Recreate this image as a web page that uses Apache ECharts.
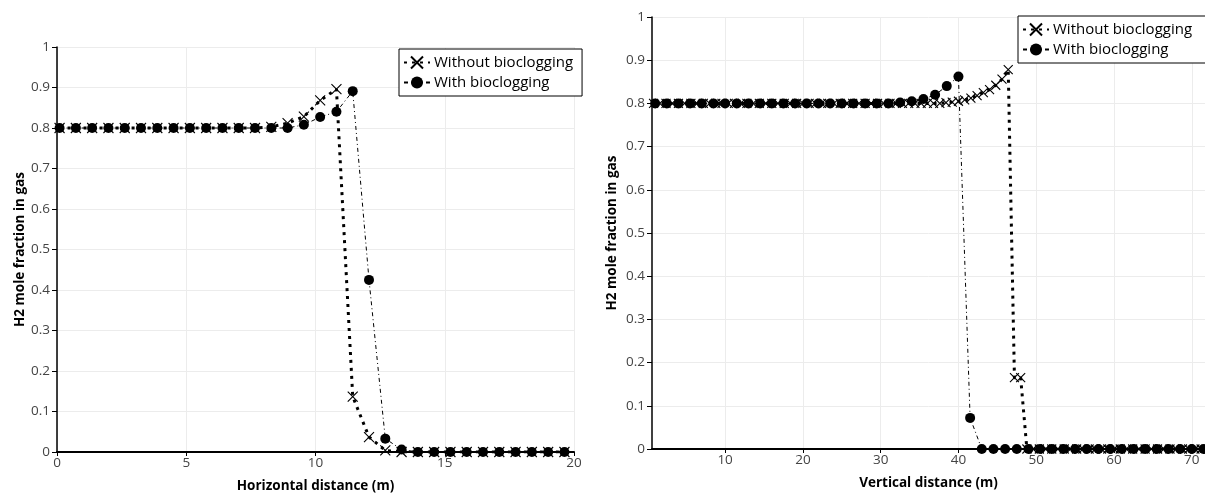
<!DOCTYPE html>
<html><head><meta charset="utf-8">
<script src="https://cdn.jsdelivr.net/npm/echarts@6/dist/echarts.min.js"></script>
<style>html,body{margin:0;padding:0;background:#fff}#c{width:1205px;height:498px}</style>
</head><body><div id="c"></div>
<script>
// ---------- data ----------
const seriesNames = ['Without bioclogging', 'With bioclogging'];

// Left panel: horizontal distance (m)
const leftX = [0.1, 0.73, 1.36, 1.99, 2.62, 3.25, 3.88, 4.51, 5.14, 5.77, 6.4, 7.03, 7.66, 8.29, 8.92, 9.55,
  10.18, 10.81, 11.44, 12.07, 12.7, 13.33, 13.96, 14.59, 15.22, 15.85, 16.48, 17.11, 17.74, 18.37, 19.0, 19.63];
const leftWithout = [0.8, 0.8, 0.8, 0.8, 0.8, 0.8, 0.8, 0.8, 0.8, 0.8, 0.8, 0.8, 0.8, 0.803, 0.812, 0.828,
  0.868, 0.896, 0.137, 0.037, 0.004, 0, 0, 0, 0, 0, 0, 0, 0, 0, 0, 0];
const leftWith = [0.8, 0.8, 0.8, 0.8, 0.8, 0.8, 0.8, 0.8, 0.8, 0.8, 0.8, 0.8, 0.8, 0.8, 0.8, 0.808,
  0.827, 0.84, 0.891, 0.425, 0.033, 0.006, 0, 0, 0, 0, 0, 0, 0, 0, 0, 0];

// Right panel: vertical distance (m)
const rightXWith = [1.0, 2.5, 4.0, 5.5, 7.0, 8.5, 10.0, 11.5, 13.0, 14.5, 16.0, 17.5, 19.0, 20.5, 22.0, 23.5,
  25.0, 26.5, 28.0, 29.5, 31.0, 32.5, 34.0, 35.5, 37.0, 38.5, 40.0, 41.5, 43.0, 44.5, 46.0, 47.5, 49.0, 50.5,
  52.0, 53.5, 55.0, 56.5, 58.0, 59.5, 61.0, 62.5, 64.0, 65.5, 67.0, 68.5, 70.0, 71.5];
const rightWith = [0.8, 0.8, 0.8, 0.8, 0.8, 0.8, 0.8, 0.8, 0.8, 0.8, 0.8, 0.8, 0.8, 0.8, 0.8, 0.8,
  0.8, 0.8, 0.8, 0.8, 0.8, 0.802, 0.805, 0.81, 0.82, 0.84, 0.862, 0.072, 0, 0, 0, 0, 0, 0,
  0, 0, 0, 0, 0, 0, 0, 0, 0, 0, 0, 0, 0, 0];
const rightXWithout = [0.8, 1.6, 2.4, 3.2, 4.0, 4.8, 5.6, 6.4, 7.2, 8.0, 8.8, 9.6, 10.4, 11.2, 12.0, 12.8, 13.6,
  14.4, 15.2, 16.0, 16.8, 17.6, 18.4, 19.2, 20.0, 20.8, 21.6, 22.4, 23.2, 24.0, 24.8, 25.6, 26.4, 27.2, 28.0,
  28.8, 29.6, 30.4, 31.2, 32.0, 32.8, 33.6, 34.4, 35.2, 36.0, 36.8, 37.6, 38.4, 39.2, 40.0, 40.8, 41.6, 42.4,
  43.2, 44.0, 44.8, 45.6, 46.4, 47.2, 48.0, 48.8, 49.6, 50.4, 51.2, 52.0, 52.8, 53.6, 54.4, 55.2, 56.0, 56.8,
  57.6, 58.4, 59.2, 60.0, 60.8, 61.6, 62.4, 63.2, 64.0, 64.8, 65.6, 66.4, 67.2, 68.0, 68.8, 69.6, 70.4, 71.2];
const rightWithout = [0.8, 0.8, 0.8, 0.8, 0.8, 0.8, 0.8, 0.8, 0.8, 0.8, 0.8, 0.8, 0.8, 0.8, 0.8, 0.8, 0.8,
  0.8, 0.8, 0.8, 0.8, 0.8, 0.8, 0.8, 0.8, 0.8, 0.8, 0.8, 0.8, 0.8, 0.8, 0.8, 0.8, 0.8, 0.8,
  0.8, 0.8, 0.8, 0.8, 0.8, 0.8, 0.8, 0.8, 0.8, 0.8, 0.8, 0.8, 0.802, 0.803, 0.805, 0.808, 0.812, 0.818,
  0.825, 0.832, 0.842, 0.856, 0.878, 0.165, 0.165, 0, 0, 0, 0, 0, 0, 0, 0, 0, 0, 0,
  0, 0, 0, 0, 0, 0, 0, 0, 0, 0, 0, 0, 0, 0, 0, 0, 0, 0];

const leftXTicks = [0, 5, 10, 15, 20];
const rightXTicks = [10, 20, 30, 40, 50, 60, 70];
const yAxisTitle = 'H2 mole fraction in gas';
const leftXTitle = 'Horizontal distance (m)';
const rightXTitle = 'Vertical distance (m)';

// ---------- chart ----------
const FONT = '"Open Sans", Lato, sans-serif';
const pairs = (xs, ys) => xs.map((x, i) => [x, ys[i]]);
const crossPath = 'path://M0,0L10,10M10,0L0,10';

function mkSeries(name, data, gi, isCross, size) {
  return {
    name, type: 'line', xAxisIndex: gi, yAxisIndex: gi, data,
    symbol: isCross ? crossPath : 'circle',
    symbolSize: size,
    showAllSymbol: true,
    animation: false,
    z: isCross ? 2 : 3,
    emphasis: { disabled: true },
    lineStyle: isCross ? { color: '#000', width: 3, type: [3, 5] }
                       : { color: '#000', width: 1, type: [4, 3, 1, 3] },
    itemStyle: isCross ? { color: 'rgba(0,0,0,0)', borderColor: '#000', borderWidth: 1.1 }
                       : { color: '#000', borderWidth: 0 }
  };
}

function xAxisCfg(gi, name, min, max, ticks) {
  return {
    type: 'value', gridIndex: gi, min, max,
    name, nameLocation: 'middle', nameGap: 27,
    nameTextStyle: { fontFamily: FONT, fontWeight: 'bold', fontSize: 13.5, color: '#000' },
    axisLine: { show: true, onZero: false, lineStyle: { color: '#000', width: 2 } },
    axisTick: { show: true, length: 4, customValues: ticks, lineStyle: { color: '#000' } },
    axisLabel: { fontFamily: FONT, fontSize: 13.5, color: '#444', margin: 4, customValues: ticks },
    splitLine: { show: true, lineStyle: { color: '#ececec', width: 1 } }
  };
}
function yAxisCfg(gi, gap) {
  return {
    type: 'value', gridIndex: gi, min: 0, max: 1, interval: 0.1,
    name: yAxisTitle, nameLocation: 'middle', nameGap: gap,
    nameTextStyle: { fontFamily: FONT, fontWeight: 'bold', fontSize: 13.5, color: '#000' },
    axisLine: { show: true, lineStyle: { color: '#000', width: 1.5 } },
    axisTick: { show: true, length: 5, lineStyle: { color: '#000' } },
    axisLabel: { fontFamily: FONT, fontSize: 13.5, color: '#444', margin: 7 },
    splitLine: { show: true, lineStyle: { color: '#ececec', width: 1 } }
  };
}
function legendCfg(left, top, padRight) {
  return {
    data: seriesNames, orient: 'vertical', left, top,
    backgroundColor: '#fff', borderColor: '#000', borderWidth: 1, borderRadius: 0,
    padding: [6, padRight, 6, 4], itemGap: 5, itemWidth: 26, itemHeight: 15,
    selectedMode: false,
    textStyle: { fontFamily: FONT, fontSize: 15, color: '#000', padding: [0, 0, 0, -1] }
  };
}

const chart = echarts.init(document.getElementById('c'), null, { renderer: 'canvas' });
chart.setOption({
  backgroundColor: '#fff',
  animation: false,
  textStyle: { fontFamily: FONT },
  grid: [
    { left: 57, top: 47, width: 517, height: 407 },
    { left: 652, top: 17, width: 553, height: 432 }
  ],
  xAxis: [
    xAxisCfg(0, leftXTitle, 0, 20, leftXTicks),
    xAxisCfg(1, rightXTitle, 0.6, 71.7, rightXTicks)
  ],
  yAxis: [yAxisCfg(0, 29), yAxisCfg(1, 33)],
  legend: [legendCfg(399, 49, 9), legendCfg(1018, 16, 20)],
  series: [
    mkSeries(seriesNames[0], pairs(leftX, leftWithout), 0, true, 10),
    mkSeries(seriesNames[1], pairs(leftX, leftWith), 0, false, 10),
    mkSeries(seriesNames[0], pairs(rightXWithout, rightWithout), 1, true, 9),
    mkSeries(seriesNames[1], pairs(rightXWith, rightWith), 1, false, 10)
  ]
});
</script></body></html>
